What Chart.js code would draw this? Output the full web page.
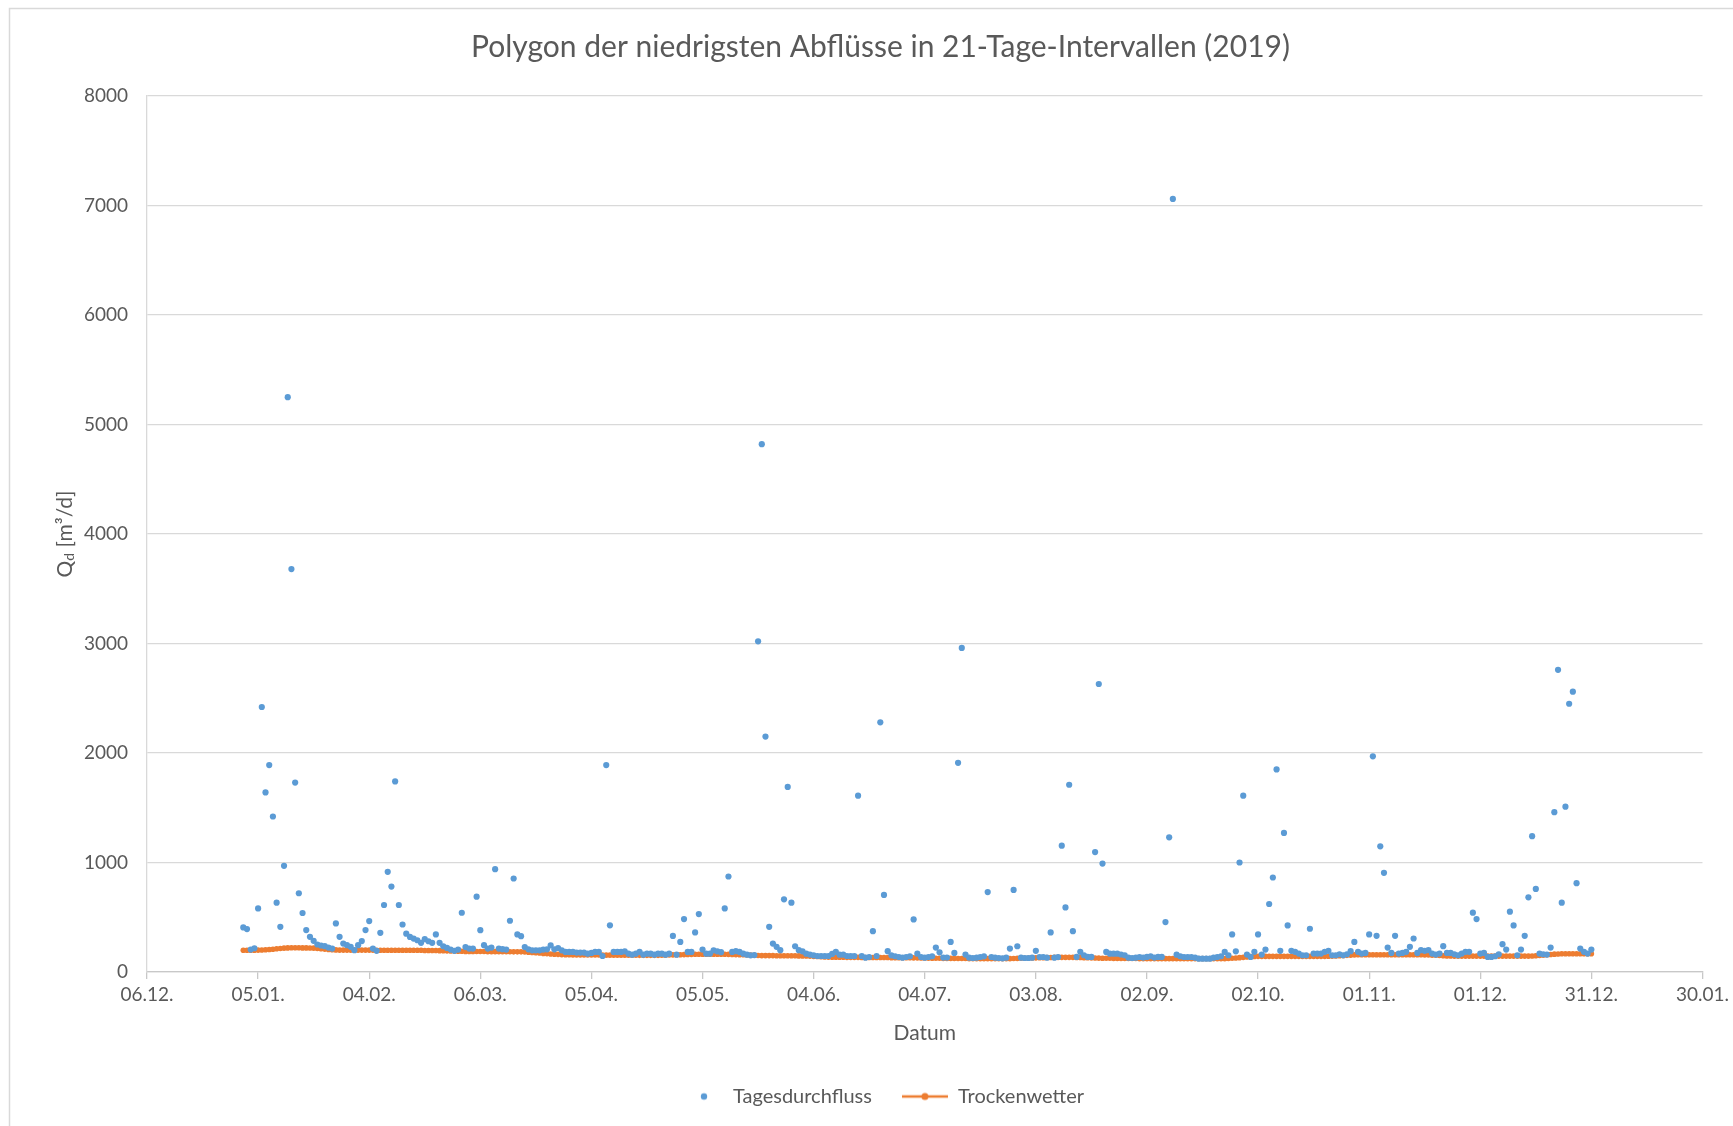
<!DOCTYPE html>
<html lang="de">
<head>
<meta charset="utf-8">
<title>Polygon der niedrigsten Abflüsse</title>
<script src="https://cdn.jsdelivr.net/npm/chart.js@4.4.1/dist/chart.umd.min.js"></script>
<style>
    html, body { margin: 0; padding: 0; background: #fff; }
    #wrap { width: 1733px; height: 1126px; }
</style>
</head>
<body>
<div id="wrap"><canvas id="abflussChart" width="1733" height="1126"></canvas></div>
<script>
// Beschriftung der X-Achse (alle 30 Tage ab 06.12.2018)
const tickLabels = ['06.12.', '05.01.', '04.02.', '06.03.', '05.04.', '05.05.', '04.06.', '04.07.',
    '03.08.', '02.09.', '02.10.', '01.11.', '01.12.', '31.12.', '30.01.'];

// 01.01.2019 liegt 26 Tage nach dem Achsenbeginn (06.12.2018)
const startTag = 26;

// Tagesdurchfluss 2019 in m³/d (01.01. - 31.12.)
const tagesdurchfluss = [
    407, 392, 205, 217, 581, 2420, 1640, 1890, 1420, 633,
    413, 970, 5250, 3680, 1730, 719, 539, 383, 321, 285,
    251, 242, 236, 223, 214, 444, 321, 260, 245, 230,
    199, 245, 282, 383, 465, 214, 193, 358, 612, 915,
    780, 1740, 612, 434, 350, 320, 305, 290, 266, 300,
    281, 266, 343, 266, 235, 220, 205, 193, 205, 541,
    228, 214, 214, 688, 382, 245, 214, 223, 939, 214,
    208, 205, 468, 854, 343, 327, 228, 207, 198, 198,
    198, 205, 207, 243, 207, 219, 198, 183, 183, 183,
    177, 177, 177, 167, 174, 183, 183, 146, 1890, 426,
    183, 183, 183, 189, 167, 158, 167, 183, 158, 167,
    167, 158, 167, 167, 158, 167, 329, 158, 275, 483,
    183, 183, 361, 529, 205, 167, 167, 198, 189, 181,
    581, 872, 183, 190, 183, 167, 158, 152, 155, 3020,
    4820, 2150, 413, 260, 230, 199, 664, 1690, 633, 235,
    199, 189, 167, 159, 152, 146, 146, 146, 146, 165,
    183, 158, 158, 146, 146, 146, 1610, 146, 131, 137,
    373, 146, 2280, 704, 190, 152, 144, 137, 131, 137,
    144, 480, 167, 137, 131, 137, 144, 223, 180, 132,
    132, 275, 174, 1910, 2960, 159, 131, 128, 131, 137,
    143, 730, 137, 131, 128, 125, 131, 214, 750, 235,
    131, 128, 128, 131, 193, 137, 137, 131, 361, 131,
    137, 1154, 590, 1710, 373, 138, 184, 153, 138, 138,
    1095, 2630, 990, 183, 167, 167, 167, 160, 153, 131,
    128, 131, 137, 132, 138, 144, 132, 138, 138, 456,
    1230, 7060, 158, 144, 137, 137, 137, 131, 122, 122,
    122, 122, 131, 137, 144, 183, 153, 343, 189, 1000,
    1610, 159, 138, 184, 343, 159, 205, 621, 863, 1850,
    193, 1270, 425, 193, 184, 168, 153, 153, 395, 168,
    168, 168, 184, 193, 153, 153, 162, 153, 162, 190,
    275, 184, 168, 174, 343, 1970, 330, 1148, 906, 223,
    174, 330, 168, 174, 184, 230, 306, 174, 199, 193,
    199, 168, 159, 168, 236, 174, 174, 162, 153, 168,
    184, 184, 542, 483, 168, 174, 138, 138, 144, 162,
    254, 205, 551, 425, 153, 205, 330, 682, 1240, 759,
    168, 162, 159, 223, 1460, 2760, 633, 1510, 2450, 2560,
    811, 214, 184, 168, 205
];

// Trockenwetter: Polygon der niedrigsten Abflüsse (21-Tage-Intervalle)
const trockenwetter = [
    198, 198, 199, 199, 200, 201, 203, 205, 208, 212,
    215, 218, 220, 221, 221, 221, 220, 220, 219, 218,
    215, 212, 209, 206, 204, 202, 200, 200, 200, 200,
    200, 200, 200, 200, 200, 200, 199, 199, 199, 199,
    199, 199, 199, 198, 198, 198, 198, 198, 198, 197,
    197, 197, 196, 195, 194, 193, 192, 191, 190, 189,
    188, 188, 188, 187, 187, 187, 186, 186, 186, 186,
    185, 185, 185, 184, 184, 184, 183, 181, 179, 176,
    173, 170, 168, 165, 163, 161, 159, 157, 157, 156,
    156, 156, 155, 155, 155, 155, 155, 154, 154, 154,
    154, 154, 153, 153, 153, 153, 153, 152, 152, 152,
    152, 152, 152, 153, 154, 155, 156, 157, 158, 159,
    160, 161, 162, 162, 162, 162, 162, 162, 162, 162,
    162, 161, 160, 159, 158, 157, 156, 155, 153, 151,
    150, 150, 150, 150, 149, 149, 149, 148, 148, 148,
    147, 147, 146, 145, 143, 141, 139, 137, 136, 135,
    135, 135, 135, 134, 134, 134, 134, 133, 133, 133,
    133, 132, 132, 132, 132, 131, 131, 131, 130, 130,
    130, 129, 129, 128, 128, 127, 126, 125, 125, 124,
    124, 124, 123, 123, 123, 123, 122, 122, 122, 122,
    122, 122, 122, 122, 122, 122, 122, 122, 123, 124,
    125, 126, 127, 128, 129, 130, 131, 132, 133, 134,
    134, 134, 134, 134, 134, 133, 132, 131, 130, 129,
    128, 127, 126, 125, 125, 124, 124, 124, 123, 123,
    123, 123, 122, 122, 122, 122, 122, 122, 122, 122,
    122, 122, 122, 122, 122, 122, 122, 122, 122, 122,
    122, 122, 122, 122, 122, 122, 123, 125, 128, 131,
    134, 137, 140, 142, 143, 143, 143, 143, 143, 143,
    143, 143, 143, 143, 143, 143, 143, 143, 143, 143,
    143, 143, 143, 144, 145, 146, 148, 150, 152, 154,
    156, 157, 157, 157, 157, 157, 157, 157, 157, 157,
    157, 157, 157, 157, 157, 157, 157, 157, 157, 156,
    155, 154, 153, 151, 149, 147, 146, 145, 145, 145,
    145, 145, 145, 145, 145, 145, 145, 145, 145, 145,
    145, 145, 145, 145, 145, 145, 145, 145, 146, 148,
    151, 154, 157, 160, 163, 165, 166, 167, 167, 167,
    167, 167, 167, 167, 167
];

const blau = '#5b9bd5';
const orange = '#ed7d31';
const textFarbe = '#595959';
const gitterFarbe = '#d9d9d9';

Chart.defaults.font.family = 'Lato, "Open Sans", sans-serif';
Chart.defaults.color = textFarbe;

// Kleine Symbole für die Legende (Punkt bzw. Linie mit Punkt)
function legendenSymbol(mitLinie, farbe) {
    const c = document.createElement('canvas');
    c.width = 46;
    c.height = 10;
    const g = c.getContext('2d');
    g.fillStyle = farbe;
    g.strokeStyle = farbe;
    if (mitLinie) {
        g.lineWidth = 2.5;
        g.beginPath();
        g.moveTo(0, 5);
        g.lineTo(46, 5);
        g.stroke();
        g.beginPath();
        g.arc(23, 5, 3.5, 0, Math.PI * 2);
        g.fill();
    } else {
        g.beginPath();
        g.arc(27, 5, 3.2, 0, Math.PI * 2);
        g.fill();
    }
    return c;
}

// Rahmen um das Diagramm (oben und links sichtbar)
const rahmenPlugin = {
    id: 'rahmen',
    beforeDraw(chart) {
        const c = chart.ctx;
        c.save();
        c.fillStyle = '#fff';
        c.fillRect(0, 0, chart.width, chart.height);
        c.strokeStyle = gitterFarbe;
        c.lineWidth = 1.5;
        c.beginPath();
        c.moveTo(9.5, chart.height);
        c.lineTo(9.5, 8.5);
        c.lineTo(chart.width, 8.5);
        c.stroke();
        c.restore();
    }
};

// Y-Achsentitel mit tiefgestelltem d
const yTitelPlugin = {
    id: 'yTitel',
    afterDraw(chart) {
        const c = chart.ctx;
        const area = chart.chartArea;
        const gross = '21px Lato, "Open Sans", sans-serif';
        const klein = '14px Lato, "Open Sans", sans-serif';
        c.save();
        c.translate(65, (area.top + area.bottom) / 2);
        c.rotate(-Math.PI / 2);
        c.fillStyle = textFarbe;
        c.textBaseline = 'middle';
        c.textAlign = 'left';
        c.font = gross;
        const wQ = c.measureText('Q').width;
        const wRest = c.measureText(' [m³/d]').width;
        c.font = klein;
        const wd = c.measureText('d').width;
        let x = -(wQ + wd + wRest) / 2;
        c.font = gross;
        c.fillText('Q', x, 0);
        x += wQ;
        c.font = klein;
        c.fillText('d', x, 4);
        x += wd;
        c.font = gross;
        c.fillText(' [m³/d]', x, 0);
        c.restore();
    }
};

const ctx = document.getElementById('abflussChart').getContext('2d');
const abflussChart = new Chart(ctx, {
    type: 'scatter',
    data: {
        datasets: [{
            label: 'Tagesdurchfluss',
            data: tagesdurchfluss.map((wert, i) => ({ x: startTag + i, y: wert })),
            backgroundColor: blau,
            borderWidth: 0,
            pointRadius: 3.1,
            pointHoverRadius: 3.1
        }, {
            label: 'Trockenwetter',
            data: trockenwetter.map((wert, i) => ({ x: startTag + i, y: wert })),
            showLine: true,
            borderColor: orange,
            backgroundColor: orange,
            borderWidth: 3,
            pointRadius: 2.8,
            pointBorderWidth: 0,
            pointHoverRadius: 2.8
        }]
    },
    options: {
        responsive: false,
        animation: false,
        layout: { padding: { left: 58, right: 30, top: 10, bottom: 9.5 } },
        plugins: {
            title: {
                display: true,
                text: 'Polygon der niedrigsten Abflüsse in 21-Tage-Intervallen (2019)',
                color: textFarbe,
                font: { size: 30, weight: 'normal' },
                padding: { top: 19.5, bottom: 30.5 }
            },
            legend: {
                position: 'bottom',
                labels: {
                    usePointStyle: true,
                    pointStyleWidth: 46,
                    padding: 30,
                    color: textFarbe,
                    font: { size: 20 },
                    generateLabels: () => [
                        { text: 'Tagesdurchfluss', pointStyle: legendenSymbol(false, blau), fontColor: textFarbe, lineWidth: 0, datasetIndex: 0, hidden: false },
                        { text: 'Trockenwetter', pointStyle: legendenSymbol(true, orange), fontColor: textFarbe, lineWidth: 0, datasetIndex: 1, hidden: false }
                    ]
                }
            },
            tooltip: { enabled: false }
        },
        scales: {
            x: {
                type: 'linear',
                min: 0,
                max: 420,
                afterFit: (scale) => { scale.height = 84.5; },
                ticks: {
                    stepSize: 30,
                    padding: 4,
                    maxRotation: 0,
                    autoSkip: false,
                    font: { size: 19 },
                    callback: (wert) => tickLabels[Math.round(wert / 30)]
                },
                grid: { drawOnChartArea: false, drawTicks: true, tickLength: 7, color: '#c8c8c8', lineWidth: 1.3 },
                border: { display: true, color: '#c8c8c8', width: 1.3 },
                title: { display: true, text: 'Datum', font: { size: 21 }, color: textFarbe, padding: { top: 0, bottom: 11 } }
            },
            y: {
                min: 0,
                max: 8000,
                afterFit: (scale) => { scale.width = 89; },
                ticks: {
                    stepSize: 1000,
                    padding: 19,
                    font: { size: 19 },
                    callback: (wert) => String(wert)
                },
                grid: { color: gitterFarbe, lineWidth: 1.3, drawTicks: false },
                border: { display: true, color: gitterFarbe, width: 1.3 }
            }
        }
    },
    plugins: [rahmenPlugin, yTitelPlugin]
});
</script>
</body>
</html>
